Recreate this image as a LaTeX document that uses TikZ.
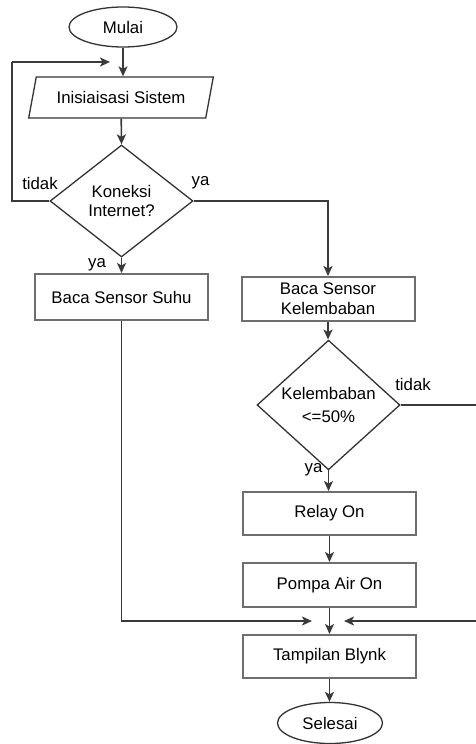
\documentclass[tikz,border=0pt]{standalone}
\usepackage{fontspec}
\setmainfont{Liberation Sans}
\usetikzlibrary{shapes.geometric,arrows.meta,calc}
\definecolor{boxline}{HTML}{6E6E6E}
\definecolor{wire}{HTML}{3A3A3A}
\tikzset{arr/.style={draw=wire,line width=1.6pt,-{Stealth[length=10pt,width=9pt,inset=2.5pt]}}}
\tikzset{wire/.style={draw=wire,line width=1.6pt}}
\tikzset{term/.style={ellipse,draw=black!80,line width=1.3pt,inner sep=0pt}}
\tikzset{proc/.style={rectangle,draw=boxline,line width=2pt,minimum width=173pt,inner sep=0pt,align=center}}
\tikzset{dec/.style={diamond,draw=black!80,line width=1.3pt,inner sep=0pt,align=center}}
\tikzset{io/.style={trapezium,trapezium left angle=65,trapezium right angle=115,trapezium stretches=true,draw=black!80,line width=1.3pt,inner sep=0pt}}
\tikzset{lbl/.style={inner sep=0pt}}

\begin{document}
\begin{tikzpicture}[x=1pt,y=-1pt,font=\fontsize{16.8}{19.5}\selectfont]
\useasboundingbox (0,0) rectangle (475,744);
\node (mulai) at (123,27) [term,minimum width=108pt,minimum height=40pt] {Mulai};
\node (init) at (121,97.5) [io,minimum width=185pt,minimum height=41pt] {Inisiaisasi Sistem};
\node (koneksi) at (121.5,201) [dec,minimum width=143pt,minimum height=112pt] {Koneksi\\Internet?};
\node (suhu) at (121.5,297) [proc,minimum height=46pt] {Baca Sensor Suhu};
\node (lembab) at (328,299) [proc,minimum height=44pt,font=\fontsize{16.8}{20}\selectfont] {Baca Sensor\\Kelembaban};
\node (cek) at (328.5,405) [dec,minimum width=143pt,minimum height=115pt,font=\fontsize{16.8}{23}\selectfont] {Kelembaban\\<=50\%};
\node (relay) at (329.5,513.5) [proc,minimum height=43pt] {Relay On};
\node (pompa) at (329.5,585) [proc,minimum height=44pt] {Pompa Air On};
\node (blynk) at (329.5,656.5) [proc,minimum height=43pt] {Tampilan Blynk};
\node (selesai) at (330,723) [term,minimum width=105pt,minimum height=41pt] {Selesai};
% loop back and merge points
\coordinate (loopc) at (12,62);
\coordinate (loopin) at (110,62);
\coordinate (mergel) at (312,621);
\coordinate (merger) at (344,621);
\coordinate (edge) at (480,621);
% main column
\draw[arr] (mulai) -- (mulai.south |- init.north);
\draw[arr] (init) -- (koneksi.north);
\draw[arr] (koneksi.south) -- (suhu.north);
\draw[wire] (koneksi.west) -| (loopc);
\draw[arr] (loopc) -- (loopin);
\draw[arr] (koneksi.east) -| (lembab.north);
\draw[arr] (lembab) -- (lembab.south |- cek.north);
\draw[arr] (cek.south) -- (cek.south |- relay.north);
\draw[arr] (relay) -- (pompa);
\draw[arr] (pompa) -- (blynk);
\draw[arr] (blynk) -- (blynk.south |- selesai.north);
\draw[arr] (suhu.south) |- (mergel);
\draw[wire] (cek.east) -| (edge);
\draw[arr] (edge) -- (merger);
% labels
\node (l1) at (40,183) [lbl] {tidak};
\node (l2) at (200.5,183) [lbl] {ya};
\node (l3) at (97,265) [lbl] {ya};
\node (l4) at (413,384) [lbl] {tidak};
\node (l5) at (313.5,470) [lbl] {ya};
\end{tikzpicture}
\end{document}
